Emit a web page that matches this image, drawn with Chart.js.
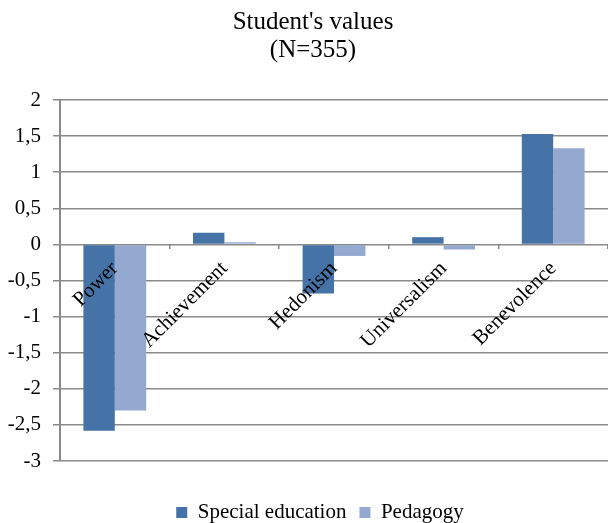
<!DOCTYPE html>
<html>
<head>
<meta charset="utf-8">
<script src="https://cdn.jsdelivr.net/npm/chart.js@4"></script>
<style>
  html, body { margin: 0; padding: 0; background: #fff; }
  #wrap { width: 608px; height: 523px; }
</style>
</head>
<body>
<div id="wrap"><canvas id="chart"></canvas></div>
<script>
const categories = ['Power', 'Achievement', 'Hedonism', 'Universalism', 'Benevolence']
const specialEducation = [-2.58, 0.16, -0.68, 0.10, 1.53]
const pedagogy = [-2.30, 0.03, -0.16, -0.07, 1.33]
const yTickValues = [-3, -2.5, -2, -1.5, -1, -0.5, 0, 0.5, 1, 1.5, 2]

const serif = 'Liberation Serif, Times New Roman, serif'
const gridGray = '#8a8a8a'

const ctx = document.getElementById('chart')

// title and legend sit a bit right of the canvas centre in the original
const nudge = {
  id: 'nudge',
  afterLayout(chart) {
    chart.titleBlock.left += 8
    chart.titleBlock.right += 8
    chart.legend.left += 15
    chart.legend.right += 15
  }
}

const data = {
  labels: categories,
  datasets: [{
    label: 'Special education',
    data: specialEducation,
    backgroundColor: '#4572A7',
    borderWidth: 0,
    barPercentage: 1,
    categoryPercentage: 0.573
  }, {
    label: 'Pedagogy',
    data: pedagogy,
    backgroundColor: '#93A9CF',
    borderWidth: 0,
    barPercentage: 1,
    categoryPercentage: 0.573
  }]
}

const config = {
  type: 'bar',
  data: data,
  plugins: [nudge],
  options: {
    responsive: true,
    maintainAspectRatio: false,
    animation: false,
    layout: { padding: { left: 0, right: -2, top: 0, bottom: -10 } },
    scales: {
      y: {
        min: -3,
        max: 2,
        afterBuildTicks: (axis) => { axis.ticks = yTickValues.map(v => ({ value: v })) },
        afterFit: (axis) => { axis.width = 60 },
        grid: { color: gridGray, lineWidth: 1.5, tickLength: 7 },
        border: { color: gridGray, width: 2 },
        ticks: {
          color: '#000',
          padding: 12,
          font: { family: serif, size: 21 },
          callback: (v) => String(v).replace('.', ',')
        }
      },
      x: {
        position: { y: 0 },
        offset: true,
        grid: { offset: true, drawOnChartArea: false, drawTicks: true, tickLength: 5, color: gridGray, lineWidth: 1.5 },
        border: { display: false },
        ticks: {
          z: 1, // category names drawn over the bars
          color: '#000',
          minRotation: 45,
          maxRotation: 45,
          padding: 7,
          font: { family: serif, size: 21 }
        }
      },
      // empty band between the plot and the legend
      spacer: {
        type: 'category',
        position: 'bottom',
        grid: { display: false },
        border: { display: false },
        ticks: { display: false },
        afterFit: (axis) => { axis.height = 28 }
      }
    },
    plugins: {
      title: {
        display: true,
        text: ["Student's values", '(N=355)'],
        color: '#000',
        font: { family: serif, size: 25, weight: 'normal', lineHeight: 1.1 },
        padding: { top: 9, bottom: 36 }
      },
      legend: {
        position: 'bottom',
        labels: {
          color: '#000',
          boxWidth: 11,
          boxHeight: 11,
          padding: 13,
          font: { family: serif, size: 21 }
        }
      },
      tooltip: { enabled: false }
    }
  }
}

var myChart = new Chart(ctx, config)
</script>
</body>
</html>
